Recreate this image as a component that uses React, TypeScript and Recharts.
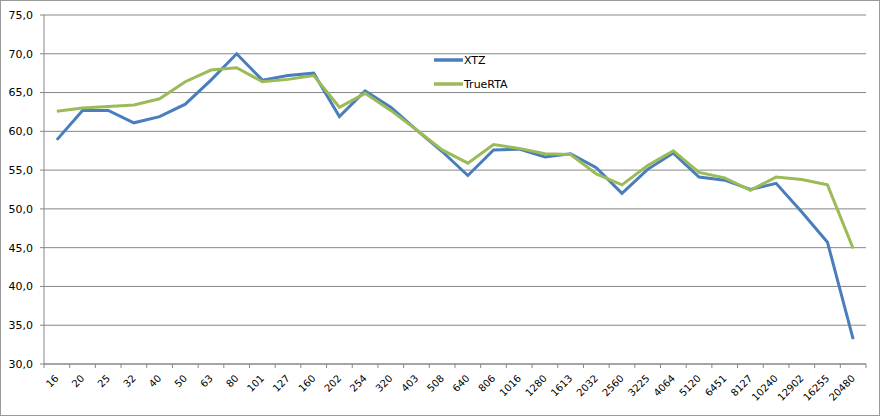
import React from 'react';
import { LineChart, Line, XAxis, YAxis, CartesianGrid, Legend } from 'recharts';

const categories = ['16','20','25','32','40','50','63','80','101','127','160','202','254','320','403','508','640','806','1016','1280','1613','2032','2560','3225','4064','5120','6451','8127','10240','12902','16255','20480'];
const xtz = [58.9,62.7,62.7,61.1,61.9,63.5,66.6,70.0,66.6,67.2,67.5,61.9,65.2,63.1,60.2,57.4,54.3,57.6,57.7,56.7,57.1,55.3,52.0,55.1,57.2,54.1,53.7,52.5,53.3,49.6,45.7,33.2];
const trueRta = [62.6,63.0,63.2,63.4,64.2,66.4,67.9,68.2,66.4,66.7,67.2,63.1,64.9,62.7,60.2,57.6,55.9,58.3,57.8,57.1,57.0,54.5,53.1,55.6,57.5,54.7,54.0,52.4,54.1,53.8,53.1,44.9];
const yTicks = [30,35,40,45,50,55,60,65,70,75];

const data = categories.map((c, i) => ({ freq: c, XTZ: xtz[i], TrueRTA: trueRta[i] }));

const FONT = 'DejaVu Sans';
const GRID = '#868686';
const BLUE = '#4a7ebb';
const GREEN = '#9bbb59';

const XTick = (props: any) => {
  const { x, y, payload, width, visibleTicksCount, index } = props;
  const half = width / visibleTicksCount / 2;
  const isLast = index === visibleTicksCount - 1;
  return (
    <g>
      <line x1={x - half} y1={y} x2={x - half} y2={y + 4} stroke={GRID} strokeWidth={1} />
      {isLast && <line x1={x + half} y1={y} x2={x + half} y2={y + 4} stroke={GRID} strokeWidth={1} />}
      <g transform={`translate(${x + 2.5},${y + 15})`}>
        <text textAnchor="end" transform="rotate(-45)" fontSize={10} fontFamily={FONT} fill="#000">
          {payload.value}
        </text>
      </g>
    </g>
  );
};

const LegendContent = () => {
  const items = [
    { name: 'XTZ', color: BLUE },
    { name: 'TrueRTA', color: GREEN },
  ];
  return (
    <div style={{ fontFamily: FONT, fontSize: 11 }}>
      {items.map((it) => (
        <div key={it.name} style={{ display: 'flex', alignItems: 'center', height: 24 }}>
          <svg width={29} height={6} style={{ display: 'block' }}>
            <line x1={0} y1={3} x2={29} y2={3} stroke={it.color} strokeWidth={3.5} />
          </svg>
          <span style={{ color: '#000', marginLeft: 1 }}>{it.name}</span>
        </div>
      ))}
    </div>
  );
};

export default function App() {
  return (
    <div style={{ position: 'absolute', left: 0, top: 0, width: 880, height: 416, boxSizing: 'border-box', border: '1px solid #9a9a9a', background: '#fff' }}>
      <LineChart width={878} height={414} data={data} margin={{ top: 14, right: 13, bottom: 0, left: 0 }}>
        <CartesianGrid vertical={false} stroke={GRID} strokeWidth={1} />
        <XAxis
          dataKey="freq"
          scale="band"
          interval={0}
          height={51}
          tickSize={0}
          tickMargin={0}
          tickLine={false}
          axisLine={{ stroke: GRID }}
          tick={<XTick />}
        />
        <YAxis
          domain={[30, 75]}
          ticks={yTicks}
          width={43}
          tickSize={4}
          tickMargin={7}
          axisLine={{ stroke: GRID }}
          tickLine={{ stroke: GRID }}
          tick={{ fontSize: 11, fontFamily: FONT, fill: '#000' }}
          tickFormatter={(v: number) => v.toFixed(1).replace('.', ',')}
        />
        <Legend
          layout="vertical"
          verticalAlign="middle"
          align="center"
          content={<LegendContent />}
          wrapperStyle={{ left: 433, top: 47, width: 120 }}
        />
        <Line type="linear" dataKey="XTZ" stroke={BLUE} strokeWidth={3} dot={false} isAnimationActive={false} legendType="line" />
        <Line type="linear" dataKey="TrueRTA" stroke={GREEN} strokeWidth={3} dot={false} isAnimationActive={false} legendType="line" />
      </LineChart>
    </div>
  );
}
